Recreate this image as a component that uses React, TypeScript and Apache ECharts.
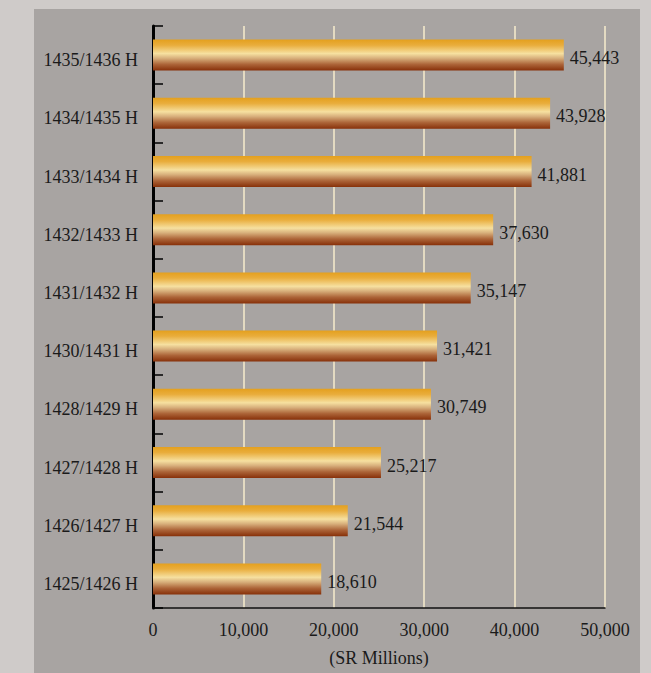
import React, { useEffect, useRef } from "react";
import * as echarts from "echarts";

const categories = [
  "1425/1426 H",
  "1426/1427 H",
  "1427/1428 H",
  "1428/1429 H",
  "1430/1431 H",
  "1431/1432 H",
  "1432/1433 H",
  "1433/1434 H",
  "1434/1435 H",
  "1435/1436 H",
];
const values = [18610, 21544, 25217, 30749, 31421, 35147, 37630, 41881, 43928, 45443];
const xTicks = [0, 10000, 20000, 30000, 40000, 50000];
const axisName = "(SR Millions)";

const fmt = (v: number) => v.toLocaleString("en-US");
const FONT = "'Liberation Serif', 'DejaVu Serif', serif";

export default function App() {
  const ref = useRef<HTMLDivElement>(null);
  useEffect(() => {
    if (!ref.current) return;
    const chart = echarts.init(ref.current, null, { renderer: "svg" });
    chart.setOption({
      animation: false,
      backgroundColor: "#cfcbc9",
      graphic: [
        {
          type: "rect",
          z: -10,
          silent: true,
          shape: { x: 34, y: 9, width: 606, height: 670 },
          style: { fill: "#a8a4a2" },
        },
      ],
      grid: { left: 153, right: 46, top: 26, bottom: 65, containLabel: false },
      xAxis: {
        type: "value",
        min: xTicks[0],
        max: xTicks[xTicks.length - 1],
        interval: 10000,
        name: axisName,
        nameLocation: "middle",
        nameGap: 41,
        nameTextStyle: { fontFamily: FONT, fontSize: 18, color: "#1a1a1a" },
        axisLine: { show: true, lineStyle: { color: "#111", width: 1.5 } },
        axisTick: { show: false },
        axisLabel: {
          fontFamily: FONT,
          fontSize: 18,
          color: "#1a1a1a",
          margin: 13,
          formatter: (v: number) => fmt(v),
        },
        splitLine: { show: true, lineStyle: { color: "#e3dac2", width: 2 } },
      },
      yAxis: {
        type: "category",
        data: categories,
        axisLine: { show: true, lineStyle: { color: "#000", width: 3 } },
        axisTick: { show: true, inside: true, length: 10, lineStyle: { color: "#000", width: 1.5 } },
        axisLabel: {
          fontFamily: FONT,
          fontSize: 18,
          color: "#1a1a1a",
          margin: 15,
          verticalAlign: "top",
          lineHeight: 10,
        },
        splitLine: { show: false },
      },
      series: [
        {
          type: "bar",
          data: values,
          barWidth: 31,
          itemStyle: {
            color: new echarts.graphic.LinearGradient(0, 0, 0, 1, [
              { offset: 0, color: "#e4a01e" },
              { offset: 0.18, color: "#e9ad3c" },
              { offset: 0.45, color: "#f6e0a0" },
              { offset: 0.6, color: "#d8b07c" },
              { offset: 0.8, color: "#ac6438" },
              { offset: 1, color: "#873009" },
            ]),
          },
          label: {
            show: true,
            position: "right",
            distance: 6,
            offset: [0, 3],
            fontFamily: FONT,
            fontSize: 18,
            color: "#1a1a1a",
            formatter: (p: any) => fmt(p.value),
          },
        },
      ],
    });
    return () => chart.dispose();
  }, []);
  return <div ref={ref} style={{ width: 651, height: 673, position: "absolute", left: 0, top: 0 }} />;
}
